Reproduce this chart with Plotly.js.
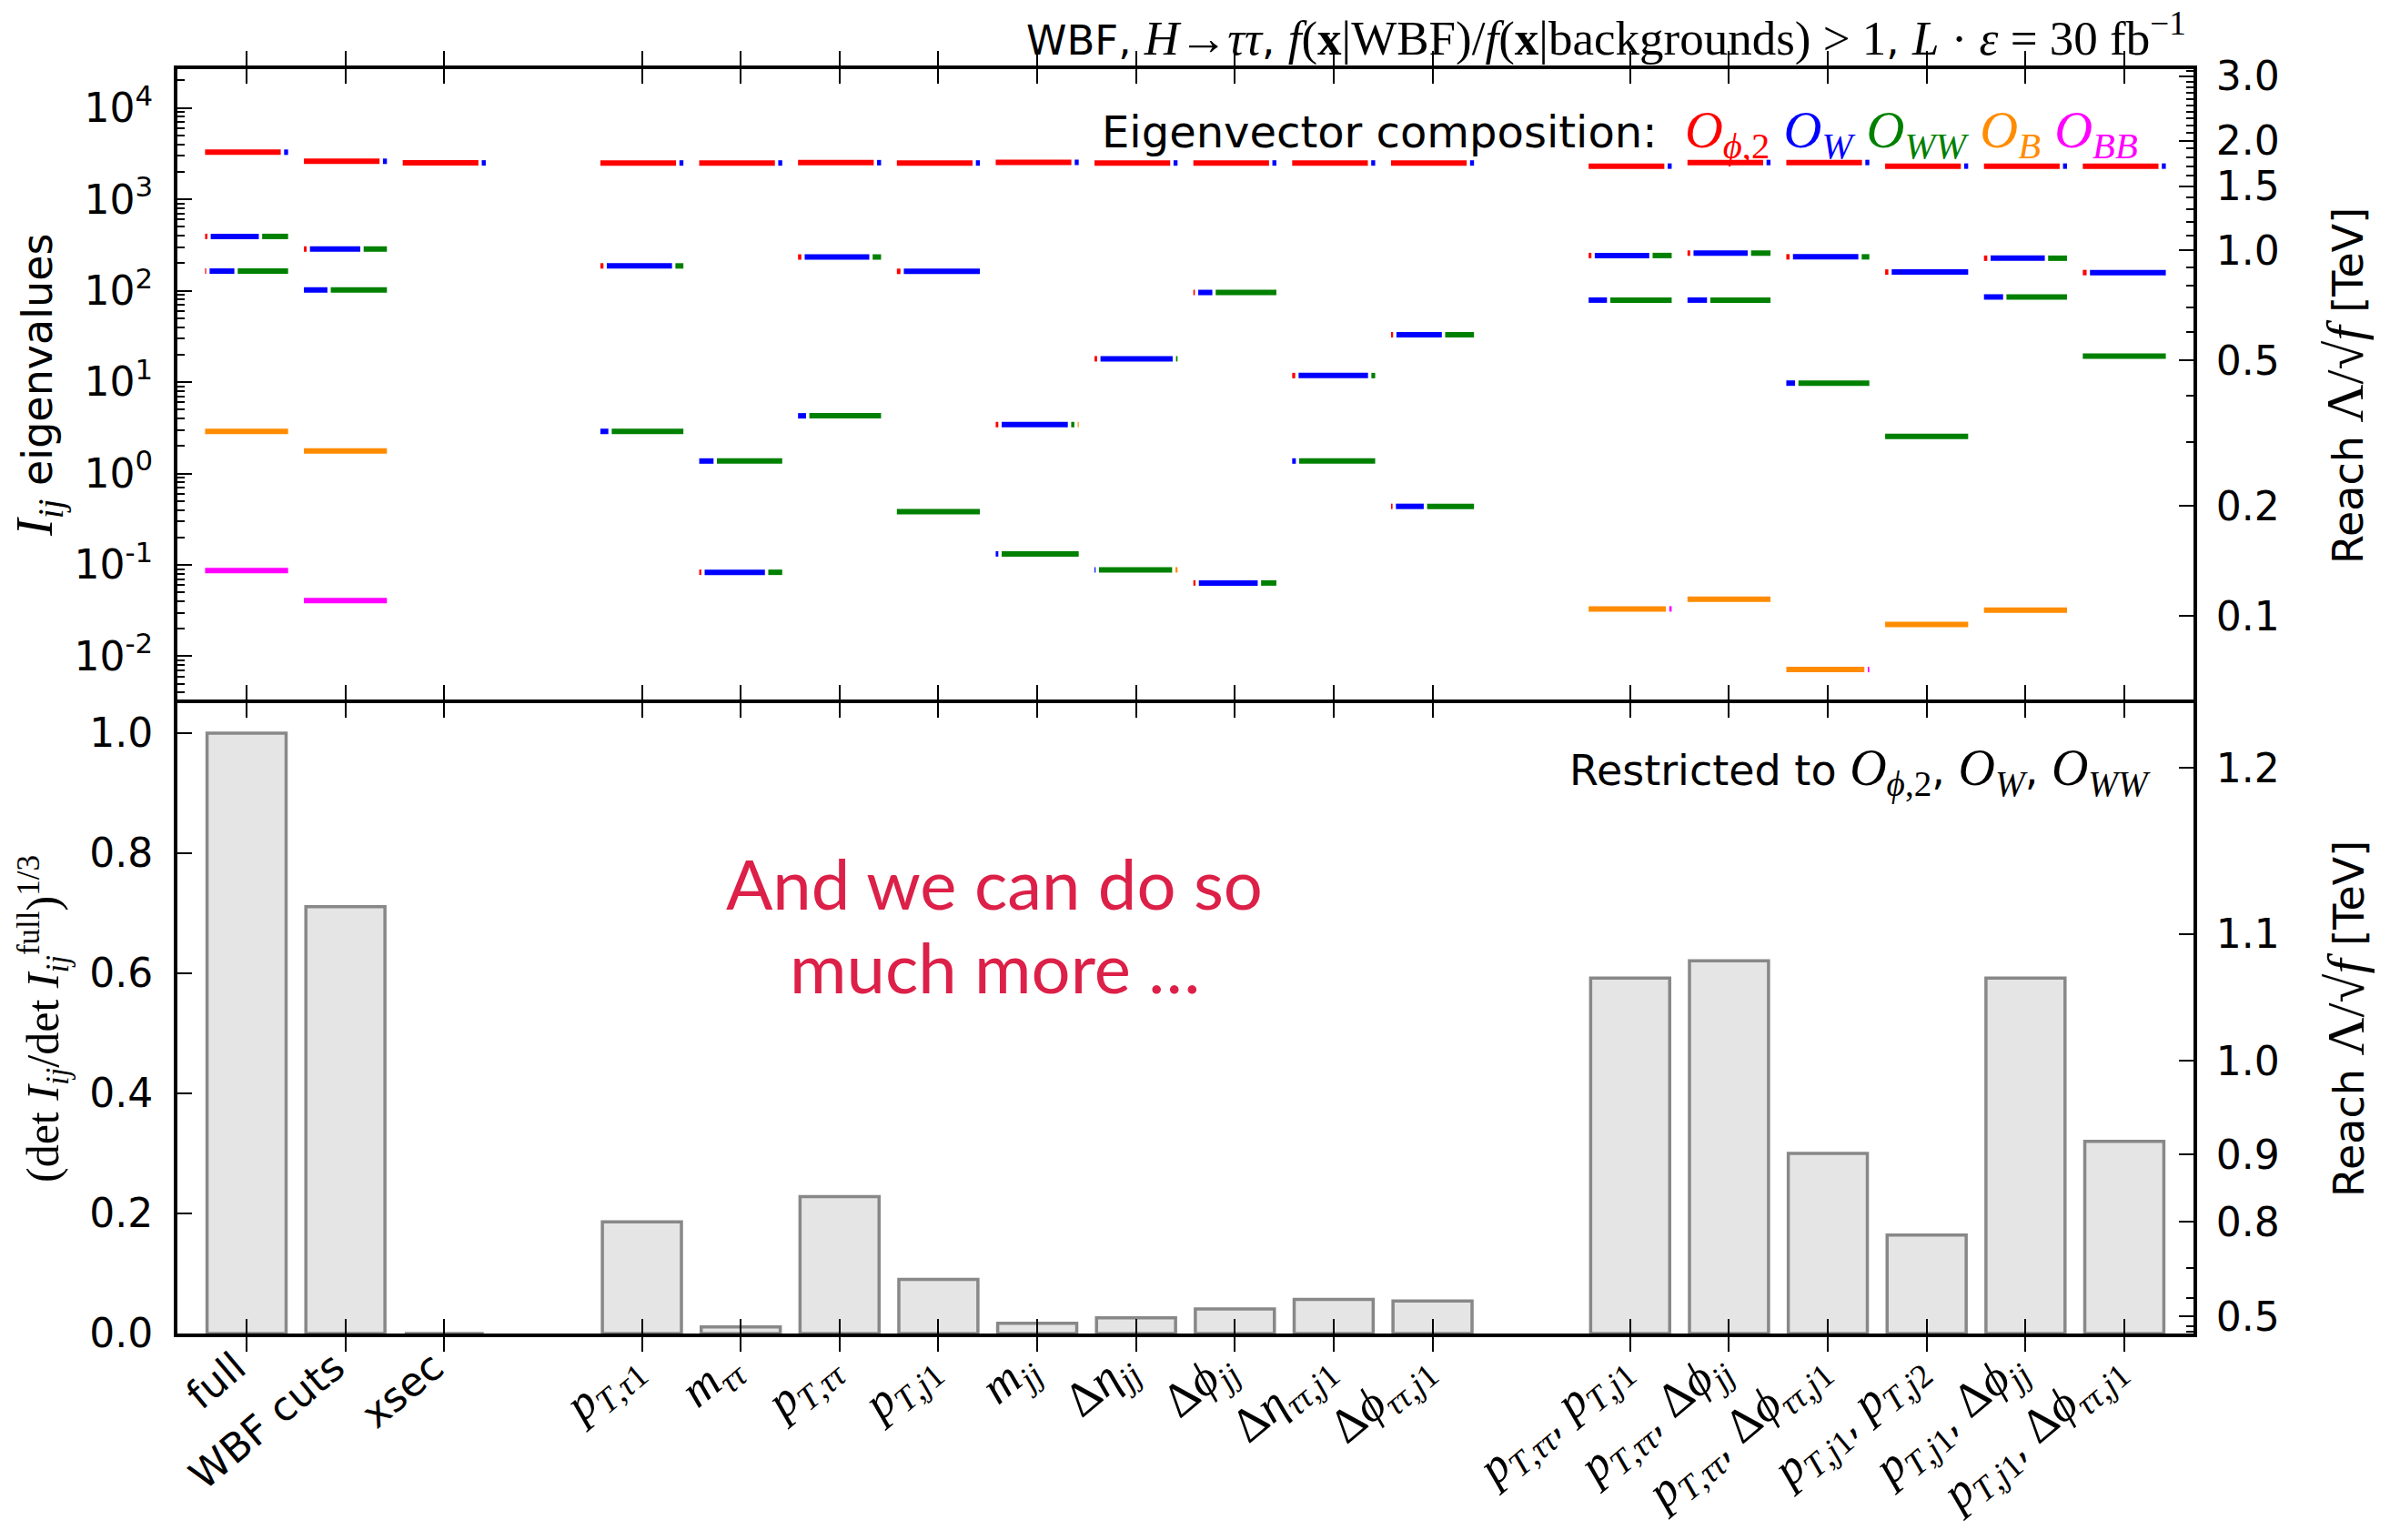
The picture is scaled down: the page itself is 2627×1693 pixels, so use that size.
<!DOCTYPE html>
<html>
<head>
<meta charset="utf-8">
<script src="https://cdn.plot.ly/plotly-3.0.1.min.js"></script>
<style>
  html, body { margin: 0; padding: 0; background: #ffffff; }
  #chart { width: 2627px; height: 1693px; }
</style>
</head>
<body>
<div id="chart"></div>
<script>
// Math pieces are set in a serif face (slightly larger), the rest in DejaVu Sans.
const SERIF = 'Liberation Serif';
const math = (s, size) => `<span style="font-family:'${SERIF}'${size ? ';font-size:' + size + 'px' : ''}">${s}</span>`;
const TICK_MATH = 53;

const pTtau1   = '<i>p</i><sub><i>T</i>,<i>τ</i>1</sub>';
const mtautau  = '<i>m</i><sub><i>ττ</i></sub>';
const pTtautau = '<i>p</i><sub><i>T</i>,<i>ττ</i></sub>';
const pTj1     = '<i>p</i><sub><i>T</i>,<i>j</i>1</sub>';
const pTj2     = '<i>p</i><sub><i>T</i>,<i>j</i>2</sub>';
const mjj      = '<i>m</i><sub><i>jj</i></sub>';
const dEtajj   = 'Δ<i>η</i><sub><i>jj</i></sub>';
const dPhijj   = 'Δ<i>ϕ</i><sub><i>jj</i></sub>';
const dEtaTTj1 = 'Δ<i>η</i><sub><i>ττ</i>,<i>j</i>1</sub>';
const dPhiTTj1 = 'Δ<i>ϕ</i><sub><i>ττ</i>,<i>j</i>1</sub>';

const one  = a => math(a, TICK_MATH);
const pair = (a, b) => math(a, TICK_MATH) + ', ' + math(b, TICK_MATH);

// Observables, in three groups separated by an empty slot
const labels = [
  'full', 'WBF cuts', 'xsec',
  one(pTtau1), one(mtautau), one(pTtautau), one(pTj1), one(mjj),
  one(dEtajj), one(dPhijj), one(dEtaTTj1), one(dPhiTTj1),
  pair(pTtautau, pTj1), pair(pTtautau, dPhijj), pair(pTtautau, dPhiTTj1),
  pair(pTj1, pTj2), pair(pTj1, dPhijj), pair(pTj1, dPhiTTj1)
];
const groupSizes = [3, 9, 6];

// (det I_ij / det I_ij^full)^(1/3), restricted to O_phi2, O_W, O_WW
const detRatio = [1.0, 0.711, 0.0,
  0.186, 0.011, 0.228, 0.090, 0.017, 0.026, 0.041, 0.057, 0.054,
  0.592, 0.621, 0.300, 0.164, 0.592, 0.320];

// Fisher information eigenvalues per observable set
const eigenvalues = [
  [3280, 393, 164, 2.89, 0.0865],
  [2610, 286, 102, 1.77, 0.0407],
  [2505],
  [2500, 187, 2.89],
  [2500, 1.37, 0.083],
  [2520, 234, 4.28],
  [2500, 163, 0.382],
  [2540, 3.43, 0.132],
  [2500, 18.0, 0.0883],
  [2500, 95.7, 0.0634],
  [2500, 11.8, 1.37],
  [2500, 33.0, 0.437],
  [2310, 243, 79, 0.033],
  [2530, 258, 79, 0.0422],
  [2530, 235, 9.75, 0.00716],
  [2310, 160, 2.55, 0.0223],
  [2310, 227, 85.5, 0.032],
  [2310, 158, 19.3]
];

// Eigenvector composition: weights of O_phi2, O_W, O_WW, O_B, O_BB
const composition = [
  [[.95,.05,0,0,0],[.03,.63,.34,0,0],[.015,.325,.66,0,0],[0,0,0,1,0],[0,0,0,0,1]],
  [[.95,.05,0,0,0],[.035,.66,.305,0,0],[0,.295,.705,0,0],[0,0,0,1,0],[0,0,0,0,1]],
  [[.95,.05,0,0,0]],
  [[.95,.05,0,0,0],[.04,.855,.105,0,0],[0,.1,.9,0,0]],
  [[.95,.05,0,0,0],[0,.18,.82,0,0],[.027,.79,.183,0,0]],
  [[.95,.05,0,0,0],[.043,.846,.11,0,0],[0,.1,.9,0,0]],
  [[.95,.05,0,0,0],[.045,.955,0,0,0],[0,0,1,0,0]],
  [[.95,.05,0,0,0],[.036,.907,.043,.014,0],[0,.033,.967,0,0]],
  [[.95,.05,0,0,0],[.034,.946,.02,0,0],[0,.014,.96,.027,0]],
  [[.95,.05,0,0,0],[.02,.185,.795,0,0],[.028,.77,.2,0,0]],
  [[.95,.05,0,0,0],[.04,.91,.05,0,0],[0,.046,.954,0,0]],
  [[.95,.05,0,0,0],[.027,.595,.378,0,0],[.02,.365,.615,0,0]],
  [[.95,.05,0,0,0],[.036,.714,.25,0,0],[0,.23,.77,0,0],[0,0,0,.97,.03]],
  [[.95,.05,0,0,0],[.035,.71,.255,0,0],[0,.245,.755,0,0],[0,0,0,1,0]],
  [[.95,.05,0,0,0],[.043,.857,.1,0,0],[0,.11,.89,0,0],[0,0,0,.98,.02]],
  [[.95,.05,0,0,0],[.04,.96,0,0,0],[0,0,1,0,0],[0,0,0,1,0]],
  [[.95,.05,0,0,0],[.043,.71,.247,0,0],[0,.24,.76,0,0],[0,0,0,1,0]],
  [[.95,.05,0,0,0],[.048,.952,0,0,0],[0,0,1,0,0]]
];

const operatorNames = [
  '<i>O</i><sub><i>ϕ</i>,2</sub>', '<i>O</i><sub><i>W</i></sub>', '<i>O</i><sub><i>WW</i></sub>',
  '<i>O</i><sub><i>B</i></sub>', '<i>O</i><sub><i>BB</i></sub>'
];
const operatorColors = ['#ff0000', '#0000ff', '#008000', '#ff8c00', '#ff00ff'];

// Reach axes
const reachAtUnitI = 275;          // eigenvalue that corresponds to 1 TeV
const reachFull = 1.218;           // reach of the full set, lower panel
const reachTicksTop = [0.1, 0.2, 0.5, 1.0, 1.5, 2.0, 3.0];
const reachTicksBottom = [0.5, 0.8, 0.9, 1.0, 1.1, 1.2];

// ---- geometry -------------------------------------------------------
const pos = [];
let slot = 0;
groupSizes.forEach(n => { for (let i = 0; i < n; i++) pos.push(slot++); slot++; });

const SPAN = 0.84, GAP = 0.034;
const segX = operatorColors.map(() => []);
const segY = operatorColors.map(() => []);
eigenvalues.forEach((vals, c) => vals.forEach((val, k) => {
  const w = composition[c][k];
  const tot = w.reduce((a, b) => a + b, 0);
  const parts = w.map((f, o) => ({ f: f / tot, o })).filter(d => d.f > 0);
  const usable = SPAN - GAP * (parts.length - 1);
  let x = pos[c] - SPAN / 2;
  parts.forEach(d => {
    const len = d.f * usable;
    segX[d.o].push(x, x + len, null);
    segY[d.o].push(val, val, null);
    x += len + GAP;
  });
}));

const XR = [-0.7, 19.7];
const Y3R = [-2.473, 4.425];
const Y4R = Y3R.map(v => (v - Math.log10(reachAtUnitI)) / 4);
const toRatio = r => Math.pow(r / reachFull, 4);

const step = (a, b, s) => { const o = []; for (let v = a; v <= b + 1e-9; v += s) o.push(+v.toFixed(2)); return o; };
const topMinor = step(0.3, 3.1, 0.1).filter(v => !reachTicksTop.some(t => Math.abs(t - v) < 1e-6));
const bottomMinor = [0.1, 0.2, 0.3, 0.4, 0.6, 0.7];
const logMinor = [];
for (let e = -3; e <= 4; e++) for (let k = 2; k <= 9; k++) logMinor.push(k * Math.pow(10, e));

// ---- traces ---------------------------------------------------------
const traces = [{
  type: 'bar', x: pos, y: detRatio, width: 0.8, xaxis: 'x', yaxis: 'y',
  marker: { color: '#e5e5e5', line: { color: '#888888', width: 3.5 } },
  hoverinfo: 'skip'
}];
operatorColors.forEach((col, o) => traces.push({
  type: 'scatter', mode: 'lines', x: segX[o], y: segY[o], xaxis: 'x2', yaxis: 'y3',
  line: { color: col, width: 6 }, connectgaps: false, hoverinfo: 'skip'
}));
// carriers for the right-hand reach axes
traces.push({ type: 'scatter', mode: 'markers', x: [pos[0]], y: [detRatio[0]], xaxis: 'x', yaxis: 'y2',
  marker: { opacity: 0 }, hoverinfo: 'skip' });
traces.push({ type: 'scatter', mode: 'markers', x: [pos[0]], y: [1], xaxis: 'x2', yaxis: 'y4',
  marker: { opacity: 0 }, hoverinfo: 'skip' });

// ---- layout ---------------------------------------------------------
const frame = {
  showline: true, linecolor: '#000', linewidth: 4, showgrid: false, zeroline: false,
  ticks: 'inside', tickcolor: '#000', tickwidth: 2, ticklen: 16,
  tickfont: { family: 'DejaVu Sans', size: 44, color: '#000' }, fixedrange: true
};
const minorTicks = vals => ({ tickmode: 'array', tickvals: vals, ticks: 'inside', ticklen: 8, tickwidth: 2, tickcolor: '#000' });

const L = 195, R = 2411, T = 76, B = 1466, MID = 771;
const H = B - T;
const px = x => (x - L) / (R - L);
const py = y => (B - y) / H;
// panels meet at MID; the shared border is drawn once by both frames on top of each other
const lowerDomain = [0, (B - (MID + 2)) / H];
const upperDomain = [(B - (MID - 2)) / H, 1];

const legendText = 'Eigenvector composition:  ' + operatorNames.map((n, o) =>
  `<span style="color:${operatorColors[o]}">${math(n, 58)}</span>`).join(' ');

const reachTitle = 'Reach ' + math('Λ/√<i>f</i>', 58) + ' [TeV]';

const layout = {
  width: 2627, height: 1693,
  margin: { l: L, r: 2627 - R, t: T, b: 1693 - B },
  paper_bgcolor: '#ffffff', plot_bgcolor: '#ffffff',
  showlegend: false, hovermode: false,
  font: { family: 'DejaVu Sans', size: 44, color: '#000' },
  bargap: 0,
  xaxis: Object.assign({}, frame, {
    anchor: 'y', range: XR, tickmode: 'array', tickvals: pos, ticktext: labels,
    tickangle: -40, mirror: 'allticks', ticklabelstandoff: -10, ticklabelshift: -12
  }),
  xaxis2: Object.assign({}, frame, {
    anchor: 'y3', range: XR, tickmode: 'array', tickvals: pos, showticklabels: false, mirror: 'allticks'
  }),
  yaxis: Object.assign({}, frame, {
    domain: lowerDomain, anchor: 'x', range: [0, 1.05], tickmode: 'array',
    tickvals: [0, 0.2, 0.4, 0.6, 0.8, 1.0], ticktext: ['0.0', '0.2', '0.4', '0.6', '0.8', '1.0'],
    ticklabelstandoff: 14
  }),
  yaxis2: Object.assign({}, frame, {
    overlaying: 'y', side: 'right', anchor: 'x', range: [0, 1.05], tickmode: 'array',
    tickvals: reachTicksBottom.map(toRatio), ticktext: reachTicksBottom.map(v => v.toFixed(1)),
    minor: minorTicks(bottomMinor.map(toRatio)), ticklabelstandoff: 12
  }),
  yaxis3: Object.assign({}, frame, {
    domain: upperDomain, anchor: 'x2', type: 'log', range: Y3R, tickmode: 'array',
    tickvals: [0.01, 0.1, 1, 10, 100, 1000, 10000],
    ticktext: ['10<sup>-2</sup>', '10<sup>-1</sup>', '10<sup>0</sup>', '10<sup>1</sup>', '10<sup>2</sup>', '10<sup>3</sup>', '10<sup>4</sup>'],
    minor: minorTicks(logMinor), ticklabelstandoff: 14
  }),
  yaxis4: Object.assign({}, frame, {
    overlaying: 'y3', side: 'right', anchor: 'x2', type: 'log', range: Y4R, tickmode: 'array',
    tickvals: reachTicksTop, ticktext: reachTicksTop.map(v => v.toFixed(1)),
    minor: minorTicks(topMinor), ticklabelstandoff: 12
  }),
  annotations: [
    { xref: 'paper', yref: 'paper', x: px(2405), y: py(38), xanchor: 'right', yanchor: 'middle', showarrow: false,
      font: { size: 45 },
      text: 'WBF, ' + math('<i>H</i>→<i>ττ</i>', 53) + ', ' +
            math('<i>f</i>(<b>x</b>|WBF)/<i>f</i>(<b>x</b>|backgrounds) > 1', 53) + ', ' +
            math('<i>L</i> · <i>ε</i> = 30 fb<sup>−1</sup>', 53) },
    { xref: 'paper', yref: 'paper', x: px(2352), y: py(146), xanchor: 'right', yanchor: 'middle', showarrow: false,
      font: { size: 48 }, text: legendText },
    { xref: 'paper', yref: 'paper', x: px(2366), y: py(848), xanchor: 'right', yanchor: 'middle', showarrow: false,
      font: { size: 46 },
      text: 'Restricted to ' + math(operatorNames[0], 56) + ', ' + math(operatorNames[1], 56) + ', ' + math(operatorNames[2], 56) },
    { xref: 'paper', yref: 'paper', x: px(1093), y: py(970), xanchor: 'center', yanchor: 'middle', showarrow: false,
      font: { family: 'Lato', size: 76, color: '#dc2048' }, text: 'And we can do so' },
    { xref: 'paper', yref: 'paper', x: px(1093), y: py(1062), xanchor: 'center', yanchor: 'middle', showarrow: false,
      font: { family: 'Lato', size: 76, color: '#dc2048' }, text: 'much more …' },
    { xref: 'paper', yref: 'paper', x: px(43), y: py(424), xanchor: 'center', yanchor: 'middle', showarrow: false,
      textangle: -90, font: { size: 46 }, text: math('<i>I</i><sub><i>ij</i></sub>', 56) + ' eigenvalues' },
    { xref: 'paper', yref: 'paper', x: px(47), y: py(1120), xanchor: 'center', yanchor: 'middle', showarrow: false,
      textangle: -90, font: { size: 48 },
      text: math('(det <i>I</i><sub><i>ij</i></sub>/det <i>I</i><sub><i>ij</i></sub><sup>full</sup>)<sup>1/3</sup>', 50) },
    { xref: 'paper', yref: 'paper', x: px(2578), y: py(424), xanchor: 'center', yanchor: 'middle', showarrow: false,
      textangle: -90, font: { size: 46 }, text: reachTitle },
    { xref: 'paper', yref: 'paper', x: px(2578), y: py(1120), xanchor: 'center', yanchor: 'middle', showarrow: false,
      textangle: -90, font: { size: 46 }, text: reachTitle }
  ]
};

Plotly.newPlot('chart', traces, layout, { staticPlot: true, displayModeBar: false });
</script>
</body>
</html>
